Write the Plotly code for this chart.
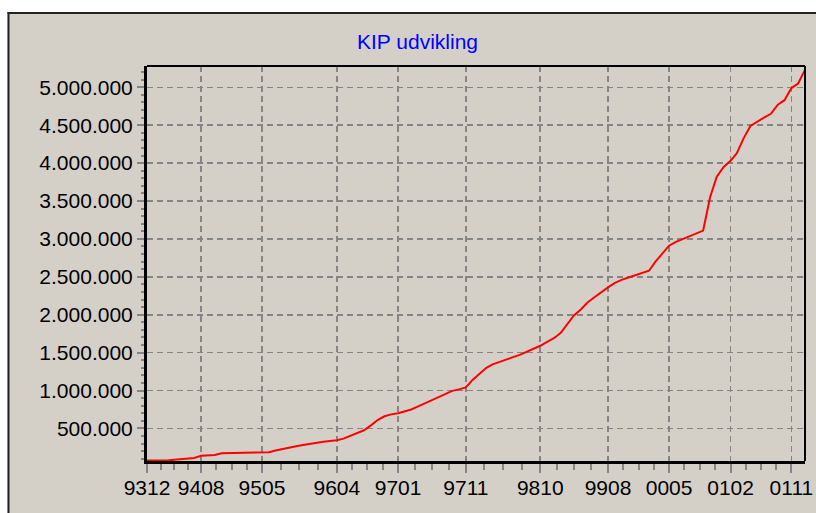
import pandas as pd
import plotly.graph_objects as go

title_text = "KIP udvikling"

# monthly observations, Dec 1993 .. Jan 2002
start_month = "1993-12-01"
kip_values = [
    75000, 75000, 76000, 78000, 85000, 92000, 100000, 110000, 138000, 143000,
    150000, 172000, 174000, 175000, 176000, 177000, 178000, 179000, 185000, 208000,
    230000, 250000, 265000, 280000, 295000, 315000, 325000, 335000, 345000, 365000,
    405000, 445000, 475000, 540000, 610000, 660000, 685000, 700000, 725000, 750000,
    790000, 830000, 870000, 915000, 960000, 995000, 1015000, 1040000, 1140000, 1220000,
    1300000, 1345000, 1380000, 1415000, 1440000, 1470000, 1510000, 1550000, 1590000, 1640000,
    1690000, 1760000, 1880000, 1990000, 2070000, 2160000, 2230000, 2300000, 2360000, 2420000,
    2460000, 2490000, 2520000, 2545000, 2580000, 2700000, 2800000, 2910000, 2960000, 2995000,
    3030000, 3065000, 3110000, 3550000, 3820000, 3950000, 4030000, 4130000, 4330000, 4490000,
    4550000, 4600000, 4650000, 4770000, 4830000, 4990000, 5050000, 5230000,
]

x_tick_labels = ["9312", "9408", "9505", "9604", "9701", "9711",
                 "9810", "9908", "0005", "0102", "0111"]
y_tick_values = [500000, 1000000, 1500000, 2000000, 2500000,
                 3000000, 3500000, 4000000, 4500000, 5000000]

dates = pd.date_range(start_month, periods=len(kip_values), freq="MS")


def label_to_date(lbl):
    yy = int(lbl[:2])
    year = 1900 + yy if yy > 50 else 2000 + yy
    return pd.Timestamp(year=year, month=int(lbl[2:]), day=1)


major_dates = [label_to_date(l) for l in x_tick_labels]
minor_dates = []
for a, b in zip(major_dates[:-1], major_dates[1:]):
    for k in range(1, 4):
        minor_dates.append(a + (b - a) * k / 4)

PANEL = "#d4d0c8"
GRID = "#858585"
FONT = "Arial, Liberation Sans, sans-serif"

# layout geometry in page pixels (body margin removed)
W, H = 816, 513
L, R, T, B = 147, 11, 66, 52
pw, ph = W - L - R, H - T - B


def px_x(px):
    return (px - L) / pw


def px_y(py):
    return (H - B - py) / ph


fig = go.Figure()
fig.add_trace(go.Scatter(
    x=dates, y=kip_values, mode="lines",
    line=dict(color="#ff0000", width=2),
    hoverinfo="skip", showlegend=False,
))

shapes = [
    # white strips outside the panel
    dict(type="rect", xref="paper", yref="paper", x0=px_x(-5), x1=px_x(W + 5),
         y0=px_y(12.5), y1=px_y(-5), fillcolor="white", line=dict(width=0)),
    dict(type="rect", xref="paper", yref="paper", x0=px_x(-5), x1=px_x(7.5),
         y0=px_y(H + 5), y1=px_y(-5), fillcolor="white", line=dict(width=0)),
    # panel border
    dict(type="line", xref="paper", yref="paper", x0=px_x(7.5), x1=px_x(W + 5),
         y0=px_y(13), y1=px_y(13), line=dict(color="#222222", width=2)),
    dict(type="line", xref="paper", yref="paper", x0=px_x(8.5), x1=px_x(8.5),
         y0=px_y(12), y1=px_y(H + 5), line=dict(color="#222222", width=2)),
    # top and right frame of plot area
    dict(type="line", xref="paper", yref="paper", x0=0, x1=1, y0=1, y1=1,
         line=dict(color="black", width=2)),
    dict(type="line", xref="paper", yref="paper", x0=1, x1=1, y0=0, y1=1,
         line=dict(color="black", width=2)),
]

fig.update_layout(
    width=W, height=H,
    margin=dict(l=L, r=R, t=T, b=B, pad=0, autoexpand=False),
    paper_bgcolor=PANEL, plot_bgcolor=PANEL,
    separators=",.",
    font=dict(family=FONT, size=21, color="black"),
    shapes=shapes,
    annotations=[dict(
        text=title_text, xref="paper", yref="paper",
        x=px_x(417), y=px_y(41), xanchor="center", yanchor="middle",
        showarrow=False, font=dict(family=FONT, size=21, color="#0000ff"),
    )],
    xaxis=dict(
        type="date", automargin=False,
        range=[dates[0], dates[-1]],
        tickmode="array", tickvals=major_dates, ticktext=x_tick_labels,
        ticks="outside", ticklen=9, tickwidth=2, tickcolor=GRID,
        ticklabelstandoff=-3,
        showgrid=True, gridcolor=GRID, gridwidth=1.6, griddash="6px,4px",
        showline=True, linecolor="black", linewidth=3,
        zeroline=False,
        tickfont=dict(family=FONT, size=21, color="black"),
        minor=dict(tickmode="array", tickvals=minor_dates, ticks="outside",
                   ticklen=6, tickwidth=2, tickcolor=GRID, showgrid=False),
    ),
    yaxis=dict(
        automargin=False,
        range=[70000, 5281000],
        tickmode="array", tickvals=y_tick_values,
        tickformat=",.0f",
        ticks="outside", ticklen=7, tickwidth=2, tickcolor=GRID,
        showgrid=True, gridcolor=GRID, gridwidth=1.6, griddash="6px,4px",
        showline=True, linecolor="black", linewidth=3,
        zeroline=False,
        tickfont=dict(family=FONT, size=21, color="black"),
        minor=dict(tick0=0, dtick=100000, ticks="outside",
                   ticklen=3, tickwidth=2, tickcolor=GRID, showgrid=False),
    ),
)

page_css = ("document.documentElement.style.overflow='hidden';"
            "document.body.style.overflow='hidden';"
            "document.body.style.margin='0';")
fig.write_html("out.html", post_script=page_css,
               config={"displayModeBar": False, "staticPlot": True})
